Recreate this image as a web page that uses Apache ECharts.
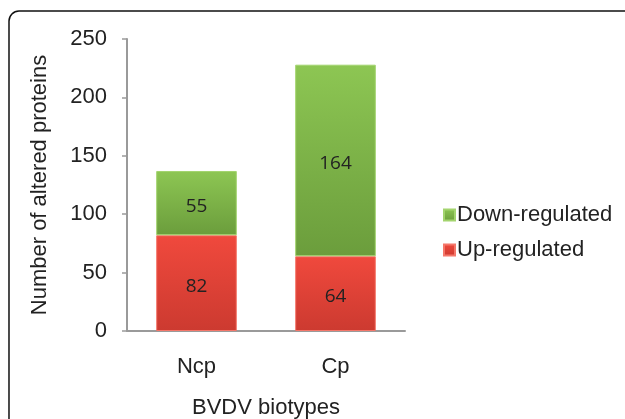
<!DOCTYPE html>
<html><head><meta charset="utf-8">
<script src="https://cdn.jsdelivr.net/npm/echarts@6/dist/echarts.min.js"></script>
<style>html,body{margin:0;padding:0;background:#fff}#c{width:625px;height:419px}</style>
</head><body><div id="c"></div>
<script>
const categories = ['Ncp', 'Cp'];
const upRegulated = [82, 64];
const downRegulated = [55, 164];
const yTicks = [0, 50, 100, 150, 200, 250];

const chart = echarts.init(document.getElementById('c'), null, {renderer: 'canvas'});
const grad = (top, bottom) => new echarts.graphic.LinearGradient(0, 0, 0, 1, [
  {offset: 0, color: top}, {offset: 1, color: bottom}]);
const axisFont = {fontFamily: 'Liberation Sans, Arial, sans-serif', fontSize: 22, color: '#222'};
const barLabel = {show: true, position: 'inside', offset: [0, 3], fontFamily: 'Open Sans, sans-serif', fontSize: 19, color: '#222'};
chart.setOption({
  animation: false,
  graphic: [{
    type: 'rect', shape: {x: 9, y: 11, width: 700, height: 500, r: 10},
    style: {fill: 'none', stroke: '#111', lineWidth: 1.5}
  }],
  grid: {left: 127, top: 39, right: 220, bottom: 88, outerBoundsMode: 'none', containLabel: false},
  legend: {
    orient: 'vertical', left: 438, top: 199,
    data: ['Down-regulated', 'Up-regulated'],
    itemWidth: 11, itemHeight: 11, itemGap: 13,
    textStyle: Object.assign({}, axisFont, {padding: [0, 0, 0, -3]}),
    icon: 'rect'
  },
  xAxis: {
    type: 'category', data: categories,
    name: 'BVDV biotypes', nameLocation: 'middle', nameGap: 66,
    nameTextStyle: axisFont,
    axisLine: {lineStyle: {color: '#9a9a9a', width: 2}},
    axisTick: {show: false},
    axisLabel: Object.assign({}, axisFont, {margin: 25})
  },
  yAxis: {
    type: 'value', min: 0, max: 250, interval: 50,
    name: 'Number of altered proteins', nameLocation: 'middle', nameGap: 76,
    nameTextStyle: axisFont,
    axisLine: {show: true, lineStyle: {color: '#9a9a9a', width: 2}},
    axisTick: {show: true, length: 5, lineStyle: {color: '#9a9a9a', width: 1.5}},
    splitLine: {show: false},
    axisLabel: Object.assign({}, axisFont, {margin: 20,
      formatter: v => yTicks.includes(v) ? String(v) : ''})
  },
  series: [{
    name: 'Up-regulated', type: 'bar', stack: 'a', data: upRegulated,
    barWidth: '58%',
    itemStyle: {color: grad('#f0493d', '#cc3a30'), borderColor: '#f5776a', borderWidth: 1},
    label: barLabel
  }, {
    name: 'Down-regulated', type: 'bar', stack: 'a', data: downRegulated,
    itemStyle: {color: grad('#8dc653', '#6b9d3c'), borderColor: '#a3d46e', borderWidth: 1},
    label: barLabel
  }]
});
</script></body></html>
